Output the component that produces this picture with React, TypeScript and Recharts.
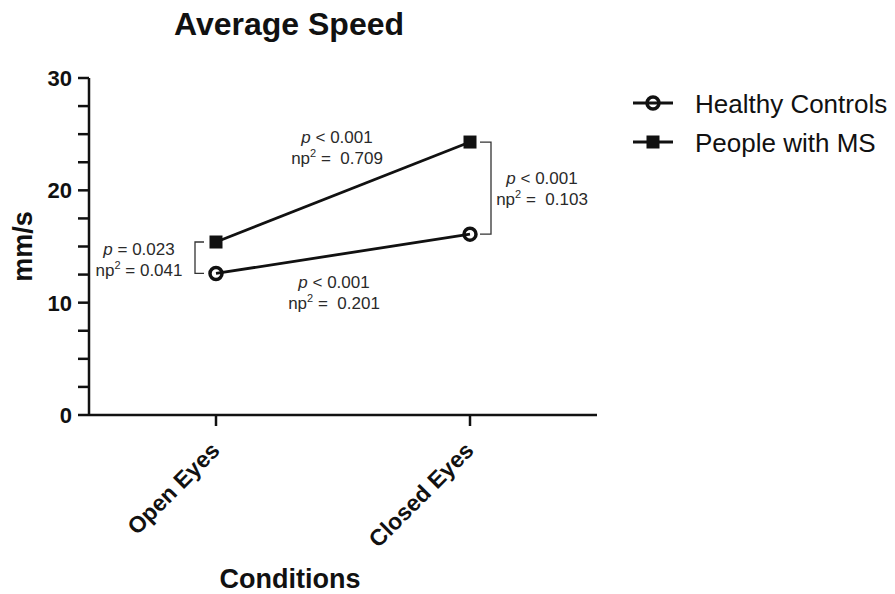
import React from 'react';
import { LineChart, Line, XAxis, YAxis, ReferenceLine } from 'recharts';

const conditions = ['Open Eyes', 'Closed Eyes'];
const healthyControls = [12.6, 16.1];
const peopleWithMS = [15.4, 24.3];
const yTicks = [0, 2.5, 5, 7.5, 10, 12.5, 15, 17.5, 20, 22.5, 25, 27.5, 30];
const yTickLabels = [0, 10, 20, 30];

// stats text: between groups (per condition) and within group (across conditions)
const openEyesStats = ['= 0.023', '= 0.041'];
const closedEyesStats = ['< 0.001', '=  0.103'];
const msStats = ['< 0.001', '=  0.709'];
const hcStats = ['< 0.001', '=  0.201'];

const data = conditions.map((c, i) => ({
  condition: c,
  hc: healthyControls[i],
  ms: peopleWithMS[i],
}));

const FONT = '"Liberation Sans", Arial, Helvetica, sans-serif';
const INK = '#111';

const StatText = ({ x, y, lines }: { x: number; y: number; lines: string[] }) => (
  <g fontFamily={FONT} fontSize={17} fill="#2a2a2a">
    <text x={x} y={y} dy="0.36em" textAnchor="middle" xmlSpace="preserve">
      <tspan fontStyle="italic">p</tspan>
      <tspan>{' ' + lines[0]}</tspan>
    </text>
    <text x={x} y={y + 21} dy="0.36em" textAnchor="middle" xmlSpace="preserve">
      <tspan>np</tspan>
      <tspan fontSize={11} dy={-7}>2</tspan>
      <tspan dy={7}>{' ' + lines[1]}</tspan>
    </text>
  </g>
);

const CircleDot = (props: any) => {
  const { cx, cy } = props;
  return <circle cx={cx} cy={cy} r={6} fill="none" stroke={INK} strokeWidth={3.5} />;
};

const SquareDot = (props: any) => {
  const { cx, cy } = props;
  return <rect x={cx - 6.5} y={cy - 6.5} width={13} height={13} fill={INK} />;
};

const YTick = (props: any) => {
  const { x, y, payload } = props;
  if (!yTickLabels.includes(payload.value)) return <g />;
  return (
    <text x={x} y={y} dy="0.36em" textAnchor="end" fontFamily={FONT} fontWeight={700} fontSize={22} fill={INK}>
      {payload.value}
    </text>
  );
};

const XTick = (props: any) => {
  const { x, y, payload } = props;
  return (
    <text
      transform={`translate(${x + 5},${y + 24}) rotate(-45)`}
      textAnchor="end"
      fontFamily={FONT}
      fontWeight={700}
      fontSize={23}
      fill={INK}
    >
      {payload.value}
    </text>
  );
};

const LeftBracket = (p: any) => {
  const { x1, y1, y2 } = p;
  return (
    <g>
      <path d={`M${x1 - 12},${y1} H${x1 - 21} V${y2} H${x1 - 12}`} fill="none" stroke="#333" strokeWidth={1.3} />
      <StatText x={x1 - 77} y={(y1 + y2) / 2 - 8.5} lines={openEyesStats} />
    </g>
  );
};

const RightBracket = (p: any) => {
  const { x1, y1, y2 } = p;
  return (
    <g>
      <path d={`M${x1 + 10},${y1} H${x1 + 21} V${y2} H${x1 + 10}`} fill="none" stroke="#333" strokeWidth={1.3} />
      <StatText x={x1 + 72} y={(y1 + y2) / 2 - 10} lines={closedEyesStats} />
    </g>
  );
};

const AboveLabel = (p: any) => {
  const { x1, y1, x2, y2 } = p;
  return <StatText x={(x1 + x2) / 2 - 6} y={(y1 + y2) / 2 - 55} lines={msStats} />;
};

const BelowLabel = (p: any) => {
  const { x1, y1, x2, y2 } = p;
  return <StatText x={(x1 + x2) / 2 - 9} y={(y1 + y2) / 2 + 28} lines={hcStats} />;
};

const legendItems = ['Healthy Controls', 'People with MS'];

export default function App() {
  return (
    <div style={{ position: 'absolute', left: 0, top: 0, width: 895, height: 594, background: '#fff' }}>
      <LineChart width={895} height={594} data={data} margin={{ top: 78, right: 298, bottom: 149, left: 0 }}>
        <XAxis
          dataKey="condition"
          type="category"
          padding={{ left: 127, right: 127 }}
          height={30}
          tickSize={11}
          tickMargin={2}
          interval={0}
          axisLine={{ stroke: INK, strokeWidth: 2.5 }}
          tickLine={{ stroke: INK, strokeWidth: 2.5 }}
          tick={<XTick />}
          label={{
            content: (lp: any) => {
              const vb = lp.viewBox;
              return (
                <text x={vb.x + 201} y={vb.y + 173} textAnchor="middle" fontFamily={FONT} fontWeight={700} fontSize={27} fill={INK}>
                  Conditions
                </text>
              );
            },
          }}
        />
        <YAxis
          type="number"
          domain={[0, 30]}
          ticks={yTicks}
          interval={0}
          width={89}
          tickSize={11}
          tickMargin={6}
          axisLine={{ stroke: INK, strokeWidth: 2.5 }}
          tickLine={{ stroke: INK, strokeWidth: 2.5 }}
          tick={<YTick />}
          label={{
            content: (lp: any) => {
              const vb = lp.viewBox;
              const cy = vb.y + vb.height / 2;
              return (
                <text
                  x={32}
                  y={cy}
                  transform={`rotate(-90 32 ${cy})`}
                  textAnchor="middle"
                  fontFamily={FONT}
                  fontWeight={700}
                  fontSize={27}
                  fill={INK}
                >
                  mm/s
                </text>
              );
            },
          }}
        />
        <Line
          dataKey="ms"
          type="linear"
          stroke={INK}
          strokeWidth={2.8}
          dot={<SquareDot />}
          activeDot={false}
          isAnimationActive={false}
        />
        <Line
          dataKey="hc"
          type="linear"
          stroke={INK}
          strokeWidth={2.8}
          dot={<CircleDot />}
          activeDot={false}
          isAnimationActive={false}
        />
        <ReferenceLine
          segment={[{ x: conditions[0], y: peopleWithMS[0] }, { x: conditions[0], y: healthyControls[0] }]}
          shape={LeftBracket}
          ifOverflow="visible"
        />
        <ReferenceLine
          segment={[{ x: conditions[1], y: peopleWithMS[1] }, { x: conditions[1], y: healthyControls[1] }]}
          shape={RightBracket}
          ifOverflow="visible"
        />
        <ReferenceLine
          segment={[{ x: conditions[0], y: peopleWithMS[0] }, { x: conditions[1], y: peopleWithMS[1] }]}
          shape={AboveLabel}
          ifOverflow="visible"
        />
        <ReferenceLine
          segment={[{ x: conditions[0], y: healthyControls[0] }, { x: conditions[1], y: healthyControls[1] }]}
          shape={BelowLabel}
          ifOverflow="visible"
        />
      </LineChart>
      <svg width={895} height={594} style={{ position: 'absolute', left: 0, top: 0, pointerEvents: 'none' }}>
        <text x={289} y={35} textAnchor="middle" fontFamily={FONT} fontWeight={700} fontSize={32} fill={INK}>
          Average Speed
        </text>
        {legendItems.map((name, i) => {
          const cy = 103 + i * 39;
          return (
            <g key={name}>
              <line x1={633} x2={673} y1={cy} y2={cy} stroke={INK} strokeWidth={3} />
              {i === 0 ? (
                <circle cx={653} cy={cy} r={6} fill="none" stroke={INK} strokeWidth={3.5} />
              ) : (
                <rect x={646.5} y={cy - 6.5} width={13} height={13} fill={INK} />
              )}
              <text x={695} y={cy + 10} fontFamily={FONT} fontSize={26} fill={INK}>
                {name}
              </text>
            </g>
          );
        })}
      </svg>
    </div>
  );
}
